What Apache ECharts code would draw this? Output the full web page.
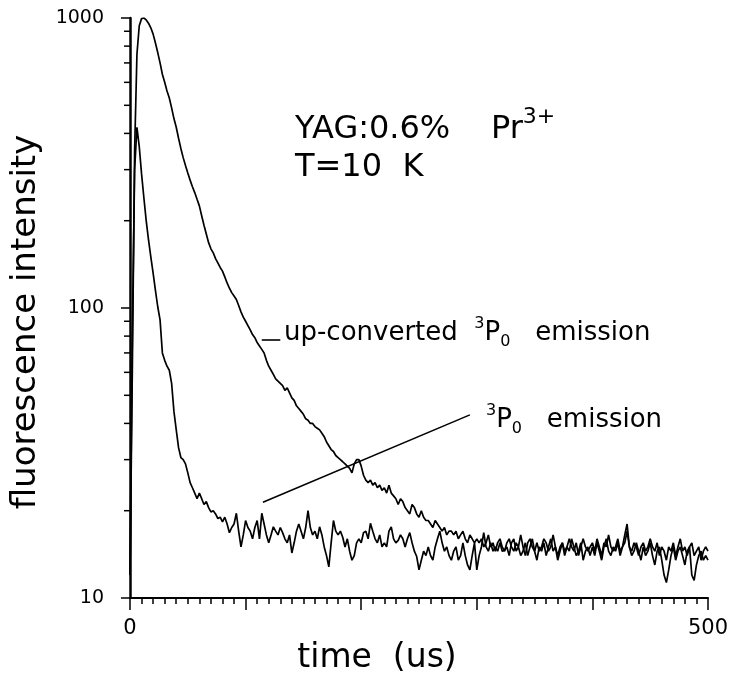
<!DOCTYPE html>
<html>
<head>
<meta charset="utf-8">
<script src="https://cdn.jsdelivr.net/npm/echarts@6/dist/echarts.min.js"></script>
<style>
  html, body { margin: 0; padding: 0; background: #fff; }
  #echart { width: 740px; height: 675px; }
</style>
</head>
<body>
<div id="echart"></div>
<script>
// sample spacing of the traces (us)
const tStep = 2;

// up-converted 3P0 emission, t = 0, 2, 4 ... 500 us
const upconverted = [
  12, 60, 350, 750, 940, 995, 1000, 985, 960, 925,
  880, 820, 760, 700, 640, 600, 560, 530, 490, 450,
  420, 385, 355, 330, 310, 292, 276, 262, 250, 237,
  225, 208, 193, 180, 168, 160, 155, 148, 143, 138,
  134, 128, 122, 117, 113, 110, 107, 102, 97, 93,
  90, 87, 84, 81, 79, 76, 74, 72, 70, 66,
  63, 61, 59, 57, 56, 55, 54, 52, 53, 51,
  49, 48, 46, 45, 44, 43, 41.5, 41, 40, 40,
  39, 38.5, 38, 37, 36, 34.5, 33.5, 32.5, 32, 31,
  30.5, 30, 29.5, 29, 28.5, 28, 27, 29, 30, 30,
  28.5, 26.5, 25.5, 25, 25.5, 24.5, 25, 24, 24.5, 23.5,
  24, 23, 24.5, 23, 22.5, 22, 21, 22, 21.5, 20.5,
  20, 19.5, 21, 20.5, 19.5, 19, 20, 19, 18.5, 18.5,
  18, 17.5, 18.5, 18, 17.5, 17, 17.5, 16.5, 17, 17,
  16.5, 17, 16, 16.5, 17, 16, 15.5, 16.5, 16, 15.5,
  16, 15.5, 16, 15, 15.5, 16.5, 15, 15.5, 14.5, 15.5,
  16, 15, 14.5, 15.5, 16, 15, 14.5, 15.5, 15, 16.5,
  15, 14, 15.5, 16, 15, 14.5, 15.5, 14.5, 15, 16,
  15.5, 14.5, 15, 16.5, 15, 14, 15, 15.5, 14.5, 15,
  16, 15, 14.5, 15.5, 14, 15, 16, 15, 14.5, 15,
  15.5, 14.5, 16, 15, 14, 15.5, 15, 16.5, 15, 14.5,
  15, 16, 14.5, 15, 15.5, 17, 15, 14.5, 15.5, 15,
  14, 15, 15.5, 14.5, 15, 16, 15, 14.5, 15.5, 14,
  15, 14.5, 13.5, 15, 14.5, 15.5, 14, 15, 16, 14.5,
  15, 14, 15, 15.5, 14, 14.5, 15, 13.5, 14.5, 15,
  14.5
];

// directly excited 3P0 emission, same time grid
const direct = [
  12, 80, 300, 420, 360, 290, 240, 200, 172, 150,
  132, 115, 101, 91, 70, 66, 63, 61, 55, 44,
  38, 33, 30.5, 30, 29, 27, 25, 24, 23, 22,
  23, 22, 21, 21.5, 20.5, 19.8, 20, 19.5, 18.8, 19,
  18.3, 19, 18, 16.8, 17.5, 18, 19.6, 17, 15, 16.5,
  18.5, 17.5, 17, 16, 17.5, 18.5, 16, 19.6, 18, 16.5,
  15.5, 16.5, 17.6, 17, 16.5, 17.5, 16.8, 16, 15.5, 16.5,
  14.3, 15.5, 17, 18, 17, 16, 17.5, 20, 17.5, 16.5,
  17, 16, 17.6, 16.5, 15, 14, 12.8, 15.5, 18.5, 17,
  16.5, 17, 16.2, 15, 16, 14.5, 13.5, 14, 15.5, 16,
  15.5, 16.8, 17, 16, 18.1, 17, 16, 15.5, 16.5, 15,
  15.5, 15, 17, 17.6, 16, 15.5, 15.8, 16.5, 16, 15,
  16, 16.8, 15.5, 14.5, 13.9, 12.5, 13.5, 14.5, 14, 15,
  14, 13.5, 15, 16, 17, 15.5, 14.5, 15, 14, 13.5,
  14.5, 15, 13.5, 14, 15.5, 14, 13, 12.5, 14, 15.5,
  12.5, 14, 15, 16.8, 15, 14.5, 15.5, 14.5, 15, 14.5,
  15.5, 14.5, 14.6, 15, 14, 15.5, 16, 14.5, 15, 14,
  14.5, 15.5, 14, 15, 16, 14.5, 13.5, 15, 14.5, 15.5,
  14, 15, 16, 14.5, 15, 13.5, 14.5, 15.5, 14, 15,
  14.5, 16, 15, 14, 14.5, 15.5, 13.5, 14.5, 15, 14,
  15, 14, 15.5, 14.5, 13.5, 15, 16, 14.5, 14, 15,
  14.5, 15.5, 14, 15, 16.5, 18, 15, 14, 14.5, 15.5,
  14.5, 13.5, 15, 14, 14.5, 15.5, 14, 13, 14.5, 15,
  13.5, 12, 11.3, 12.5, 14, 15, 13.5, 14.5, 15, 14,
  13, 14.5, 15, 12, 11.5, 13, 14, 14.5, 13.5, 14,
  13.5
];

// log axis minor ticks (2..9 of each decade)
const yMinorTicks = [20, 30, 40, 50, 60, 70, 80, 90, 200, 300, 400, 500, 600, 700, 800, 900];
const xLabels = [0, 500];

// pointer lines of the two labels, in data units [t, intensity]
const upLabelLine = [[114, 78], [130, 78]];
const directLabelLine = [[115, 21.4], [294, 42.8]];

const font = "DejaVu Sans";

function toPairs(arr) {
  return arr.map((v, i) => [i * tStep, v]);
}

// rich styles for the 3P0 super/subscripts
const scriptRich = {
  sup: { fontFamily: font, fontSize: 16, lineHeight: 16, verticalAlign: "top", fill: "#000" },
  sub: { fontFamily: font, fontSize: 16, lineHeight: 16, verticalAlign: "bottom", fill: "#000" }
};

const echart = echarts.init(document.getElementById("echart"));
echart.setOption({
  animation: false,
  backgroundColor: "#fff",
  grid: {
    left: 130,
    right: 32,
    top: 18,
    bottom: 77,
    containLabel: false,
    outerBoundsMode: "none"
  },
  xAxis: {
    type: "value",
    min: 0,
    max: 500,
    interval: 100,
    axisLine: { lineStyle: { color: "#000", width: 2 } },
    axisTick: { length: 12, lineStyle: { color: "#000", width: 1.5 } },
    minorTick: { show: true, splitNumber: 10, length: 6, lineStyle: { color: "#000", width: 1.5 } },
    splitLine: { show: false },
    axisLabel: {
      margin: 20,
      color: "#000",
      fontFamily: font,
      fontSize: 21,
      formatter: v => (xLabels.indexOf(v) > -1 ? String(v) : "")
    }
  },
  yAxis: {
    type: "log",
    logBase: 10,
    min: 10,
    max: 1000,
    axisLine: { show: true, lineStyle: { color: "#000", width: 2.5 } },
    axisTick: { show: true, length: 9, lineStyle: { color: "#000", width: 1.5 } },
    splitLine: { show: false },
    axisLabel: {
      margin: 26,
      color: "#000",
      fontFamily: font,
      fontSize: 19,
      formatter: v => String(Math.round(v))
    }
  },
  series: [
    {
      name: "up-converted",
      type: "line",
      showSymbol: false,
      data: toPairs(upconverted),
      lineStyle: { color: "#000", width: 1.7 },
      markLine: {
        silent: true,
        symbol: ["none", "none"],
        label: { show: false },
        lineStyle: { color: "#000", width: 1.6, type: "solid" },
        data: [[{ coord: upLabelLine[0] }, { coord: upLabelLine[1] }]]
      }
    },
    {
      name: "direct",
      type: "line",
      showSymbol: false,
      data: toPairs(direct),
      lineStyle: { color: "#000", width: 1.7 },
      markLine: {
        silent: true,
        symbol: ["none", "none"],
        label: { show: false },
        lineStyle: { color: "#000", width: 1.6, type: "solid" },
        data: [[{ coord: directLabelLine[0] }, { coord: directLabelLine[1] }]]
      }
    },
    {
      // minor ticks of the log axis, drawn through the axis scale
      type: "custom",
      clip: false,
      silent: true,
      data: yMinorTicks.map(v => [0, v]),
      renderItem: (params, api) => {
        const p = api.coord([api.value(0), api.value(1)]);
        return {
          type: "line",
          shape: { x1: p[0] - 6, y1: p[1], x2: p[0], y2: p[1] },
          style: { stroke: "#000", lineWidth: 1.5 }
        };
      }
    }
  ],
  graphic: [
    {
      type: "text",
      x: 26,
      y: 322,
      rotation: Math.PI / 2,
      style: {
        text: "fluorescence intensity",
        font: "34px " + font,
        fill: "#000",
        align: "center",
        verticalAlign: "middle"
      }
    },
    {
      type: "text",
      x: 377,
      y: 658,
      style: {
        text: "time  (us)",
        font: "33px " + font,
        fill: "#000",
        align: "center",
        verticalAlign: "middle"
      }
    },
    {
      type: "text",
      x: 295,
      y: 130,
      style: {
        text: "YAG:0.6%    Pr{sup|3+}",
        font: "32px " + font,
        fill: "#000",
        verticalAlign: "middle",
        lineHeight: 48,
        rich: {
          sup: { fontFamily: font, fontSize: 22, lineHeight: 22, verticalAlign: "top", fill: "#000" }
        }
      }
    },
    {
      type: "text",
      x: 295,
      y: 168,
      style: {
        text: "T=10  K",
        font: "32px " + font,
        fill: "#000",
        verticalAlign: "middle"
      }
    },
    {
      type: "text",
      x: 284,
      y: 333,
      style: {
        text: "up-converted  {sup|3}P{sub|0}   emission",
        font: "26px " + font,
        fill: "#000",
        verticalAlign: "middle",
        lineHeight: 34,
        rich: scriptRich
      }
    },
    {
      type: "text",
      x: 486,
      y: 420,
      style: {
        text: "{sup|3}P{sub|0}   emission",
        font: "26px " + font,
        fill: "#000",
        verticalAlign: "middle",
        lineHeight: 34,
        rich: scriptRich
      }
    }
  ]
});
</script>
</body>
</html>
